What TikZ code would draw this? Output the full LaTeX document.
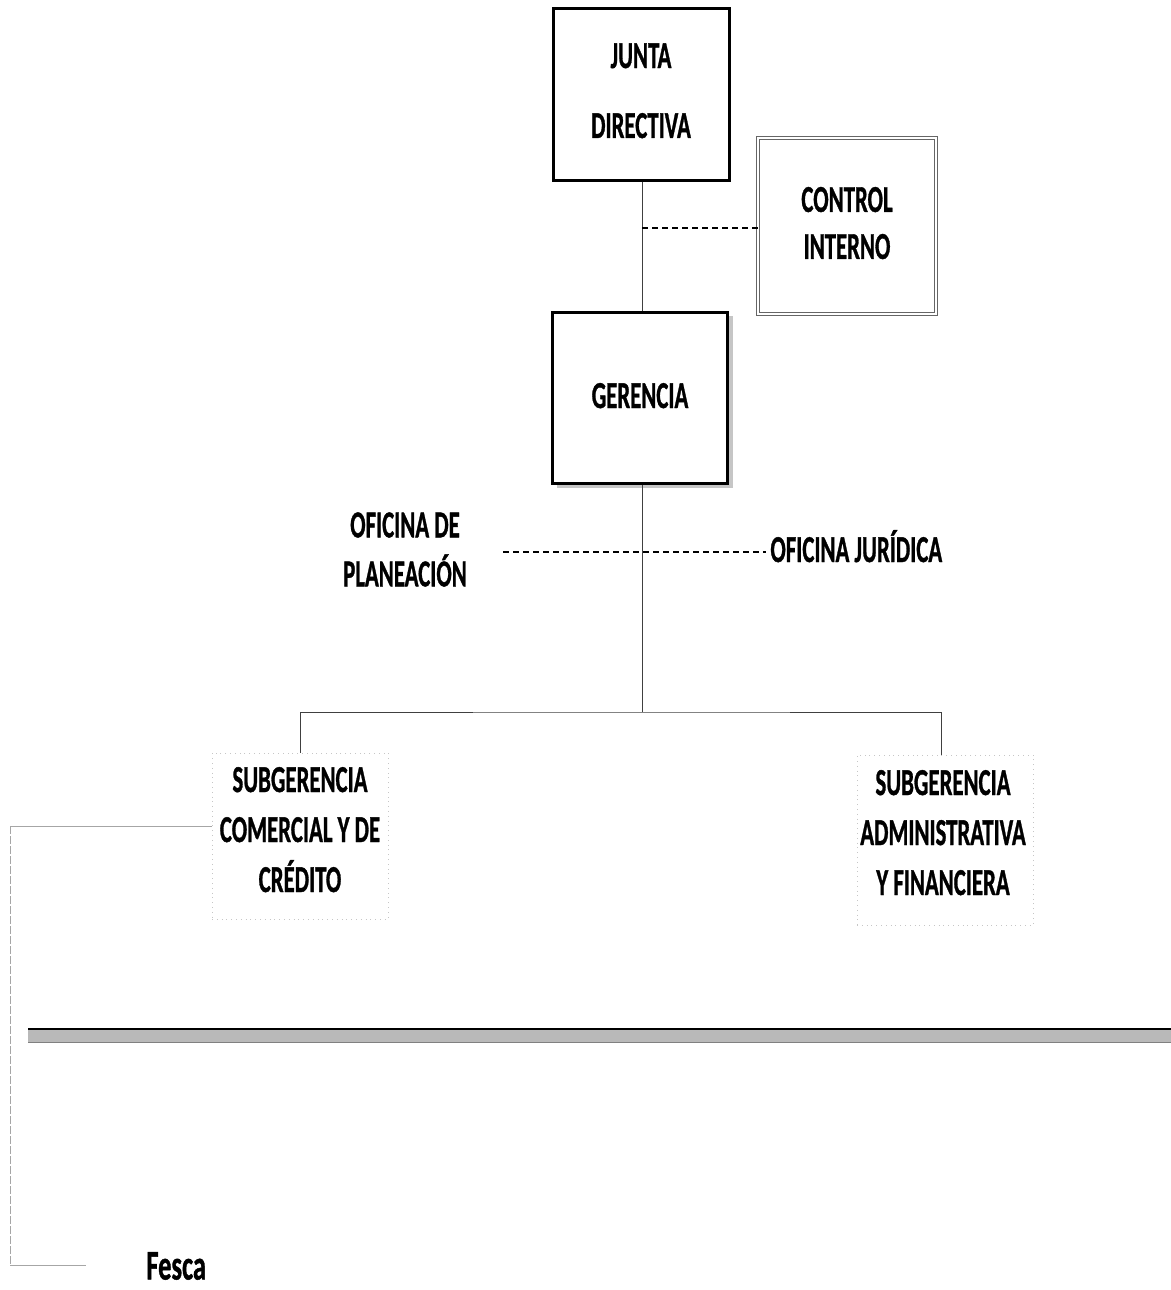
\documentclass[tikz,border=0pt]{standalone}
\usepackage{fontspec}
\usepackage{graphicx}
\setmainfont{Carlito}[BoldFeatures={FakeBold=1.2}]
\newcommand\cnd[2][25pt]{\scalebox{0.6}[1]{\fontsize{19}{#1}\selectfont\bfseries\begin{tabular}{@{}c@{}}#2\end{tabular}}}
\begin{document}
\begin{tikzpicture}[x=0.5pt,y=-0.5pt,
  thickbox/.style={draw=black,line width=1.5pt,fill=white,minimum width=88pt,minimum height=86pt,inner sep=0pt},
  ctrlbox/.style={draw=gray!80!black,double=white,double distance=1.2pt,line width=0.5pt,minimum width=89pt,minimum height=88pt,inner sep=0pt},
  subbox/.style={draw=gray!45,dotted,line width=0.4pt,minimum width=88pt,minimum height=83pt,inner sep=0pt},
  txt/.style={inner sep=2pt},
  conn/.style={draw=black!75,line width=0.5pt},
  dconn/.style={draw=black,line width=0.7pt,dash pattern=on 3pt off 2pt},
  faint/.style={draw=gray!70,line width=0.5pt}]
\useasboundingbox (0,0) rectangle (1171,1290);
% boxes
\fill[gray!45] (557,316) rectangle (733,488);
\node[thickbox] (junta) at (641,94) {};
\node[txt] (juntatxt) at (641,89) {\cnd[35pt]{JUNTA\\DIRECTIVA}};
\node[ctrlbox] (control) at (847,226) {\cnd[23.5pt]{CONTROL\\INTERNO}};
\node[thickbox,minimum width=87.5pt,minimum height=85.5pt] (gerencia) at (640,398) {\cnd{GERENCIA}};
\node[txt] (plan) at (405,552) {\cnd[24.5pt]{OFICINA DE\\PLANEACIÓN}};
\node[txt,anchor=west] (jur) at (766,552) {\cnd{OFICINA JURÍDICA}};
\node[subbox] (sub1) at (300,836) {};
\node[txt] (sub1txt) at (300,832) {\cnd{SUBGERENCIA\\COMERCIAL Y DE\\CRÉDITO}};
\node[subbox,minimum height=85pt] (sub2) at (945,840) {};
\node[txt] (sub2txt) at (943,835) {\cnd{SUBGERENCIA\\ADMINISTRATIVA\\Y FINANCIERA}};
\node[txt,anchor=west] (fesca) at (142,1266) {\scalebox{0.63}[1]{\fontsize{21}{24}\selectfont\bfseries Fesca}};
% coordinates
\coordinate (jctrl) at (642,228);
\coordinate (bus) at (642,712);
\coordinate (lcorner) at (10,826);
\coordinate (lbottom) at (10,1265);
\coordinate (lend) at (86,1265);
% connectors
\draw[conn] (junta.south -| jctrl) -- (gerencia.north -| jctrl);
\draw[dconn] (jctrl) -- (control.west |- jctrl);
\draw[conn] (gerencia.south -| bus) -- (bus);
\draw[dconn,shorten <=16pt] (plan.east |- jur.west) -- (jur.west);
\draw[conn] (sub1.north -| 300,0) |- (bus) -| (sub2.north -| 941,0);
\draw[faint] (lcorner -| sub1.west) -- (lcorner);
\draw[faint,dash pattern=on 4pt off 1pt] (lcorner) -- (lbottom);
\draw[faint] (lbottom) -- (lend);
% band
\fill[gray!55] (28,1029) rectangle (1171,1042);
\draw[black,line width=0.8pt] (28,1029) -- (1171,1029);
\draw[gray,line width=0.5pt] (28,1042) -- (1171,1042);
\end{tikzpicture}
\end{document}
